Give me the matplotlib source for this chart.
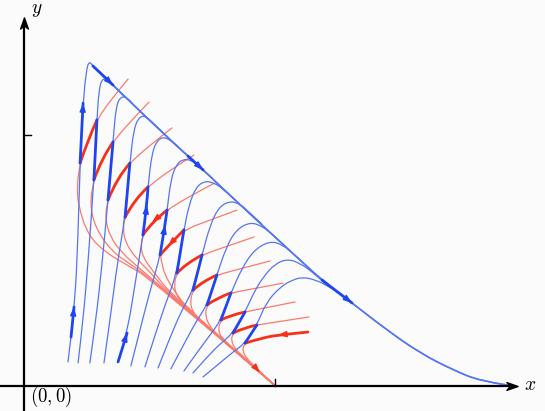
import numpy as np
import matplotlib
matplotlib.use("Agg")
import matplotlib.pyplot as plt
from matplotlib.path import Path
from matplotlib.patches import PathPatch

plt.rcParams['mathtext.fontset'] = 'cm'

# ---------------- data (axis units: tick marks at x=1, y=1) ----------------
blue_1 = [(0.175, 0.096), (0.187, 0.195), (0.199, 0.315), (0.211, 0.482), (0.223, 0.888),
          (0.235, 1.127), (0.247, 1.251), (0.258, 1.295), (0.274, 1.275), (0.354, 1.199),
          (0.501, 1.056), (0.652, 0.916), (0.712, 0.861), (0.899, 0.685), (1.097, 0.502),
          (1.185, 0.422), (1.304, 0.331), (1.443, 0.223), (1.575, 0.131), (1.706, 0.064),
          (1.813, 0.020), (1.920, 0.004)]
blue_2 = [(0.215, 0.092), (0.235, 0.263), (0.254, 0.482), (0.278, 0.821), (0.290, 1.060),
          (0.298, 1.179), (0.310, 1.223), (0.330, 1.223), (0.354, 1.199), (0.402, 1.149)]
blue_3 = [(0.262, 0.092), (0.286, 0.263), (0.310, 0.482), (0.334, 0.741), (0.354, 0.972),
          (0.366, 1.116), (0.386, 1.155), (0.414, 1.147), (0.441, 1.112), (0.481, 1.076)]
blue_4 = [(0.318, 0.092), (0.342, 0.263), (0.370, 0.482), (0.402, 0.673), (0.421, 0.888),
          (0.437, 1.028), (0.461, 1.076), (0.489, 1.072), (0.525, 1.036), (0.573, 0.990)]
blue_5 = [(0.374, 0.096), (0.410, 0.211), (0.441, 0.402), (0.473, 0.602), (0.489, 0.721),
          (0.493, 0.793), (0.509, 0.932), (0.533, 0.984), (0.565, 0.992), (0.604, 0.960),
          (0.660, 0.908)]
blue_6 = [(0.425, 0.080), (0.461, 0.223), (0.497, 0.363), (0.525, 0.462), (0.541, 0.522),
          (0.561, 0.641), (0.569, 0.701), (0.584, 0.821), (0.604, 0.880), (0.632, 0.904),
          (0.664, 0.900), (0.696, 0.876), (0.748, 0.829)]
blue_7 = [(0.481, 0.076), (0.521, 0.203), (0.561, 0.323), (0.608, 0.450), (0.636, 0.622),
          (0.656, 0.721), (0.684, 0.793), (0.720, 0.817), (0.755, 0.809), (0.787, 0.789),
          (0.839, 0.741)]
blue_8 = [(0.533, 0.072), (0.581, 0.195), (0.628, 0.303), (0.672, 0.382), (0.708, 0.522),
          (0.740, 0.641), (0.775, 0.713), (0.819, 0.737), (0.859, 0.725), (0.899, 0.689),
          (0.946, 0.645)]
blue_9 = [(0.584, 0.068), (0.640, 0.175), (0.688, 0.263), (0.728, 0.323), (0.767, 0.442),
          (0.803, 0.550), (0.843, 0.622), (0.899, 0.653), (0.946, 0.637), (0.986, 0.606),
          (1.038, 0.558)]
blue_10 = [(0.636, 0.060), (0.692, 0.139), (0.740, 0.203), (0.783, 0.263), (0.823, 0.371),
           (0.867, 0.470), (0.915, 0.542), (0.978, 0.578), (1.030, 0.562), (1.082, 0.518),
           (1.137, 0.466)]
blue_11 = [(0.672, 0.052), (0.732, 0.120), (0.779, 0.167), (0.831, 0.211), (0.879, 0.295),
           (0.915, 0.375), (0.954, 0.438), (0.998, 0.486), (1.046, 0.506), (1.097, 0.490),
           (1.157, 0.446), (1.209, 0.398)]
blue_12 = [(0.712, 0.036), (0.779, 0.092), (0.831, 0.135), (0.879, 0.171), (0.926, 0.243),
           (0.962, 0.331), (1.018, 0.394), (1.066, 0.422), (1.109, 0.434), (1.161, 0.422),
           (1.209, 0.398), (1.256, 0.367), (1.304, 0.331)]

red_1 = [(0.414, 1.223), (0.350, 1.147), (0.290, 1.060), (0.254, 0.980), (0.223, 0.888),
         (0.211, 0.801), (0.215, 0.721), (0.254, 0.602), (0.322, 0.534), (0.402, 0.486),
         (0.501, 0.430), (1.0, 0.0)]
red_2 = [(0.497, 1.131), (0.421, 1.052), (0.354, 0.972), (0.310, 0.908), (0.278, 0.821),
         (0.262, 0.729), (0.282, 0.633), (0.350, 0.534), (0.441, 0.474), (0.541, 0.398),
         (1.0, 0.0)]
red_3 = [(0.588, 1.028), (0.501, 0.960), (0.421, 0.888), (0.370, 0.829), (0.334, 0.741),
         (0.322, 0.673), (0.342, 0.594), (0.390, 0.530), (0.453, 0.474), (0.561, 0.382),
         (1.0, 0.0)]
red_4 = [(0.676, 0.920), (0.581, 0.861), (0.493, 0.793), (0.441, 0.745), (0.402, 0.673),
         (0.394, 0.629), (0.402, 0.574), (0.441, 0.514), (0.501, 0.454), (0.581, 0.363),
         (1.0, 0.0)]
red_5 = [(0.759, 0.809), (0.660, 0.757), (0.569, 0.701), (0.509, 0.653), (0.473, 0.602),
         (0.465, 0.554), (0.473, 0.514), (0.509, 0.462), (0.600, 0.347), (1.0, 0.0)]
red_6 = [(0.847, 0.701), (0.740, 0.661), (0.636, 0.622), (0.573, 0.558), (0.541, 0.522),
         (0.549, 0.490), (0.557, 0.450), (0.592, 0.386), (0.660, 0.295), (1.0, 0.0)]
red_7 = [(0.915, 0.594), (0.811, 0.558), (0.708, 0.522), (0.648, 0.490), (0.608, 0.450),
         (0.596, 0.402), (0.608, 0.355), (0.652, 0.307), (0.720, 0.247), (1.0, 0.0)]
red_8 = [(0.978, 0.498), (0.871, 0.470), (0.767, 0.442), (0.712, 0.418), (0.672, 0.382),
         (0.660, 0.335), (0.672, 0.291), (0.712, 0.251), (0.779, 0.191), (1.0, 0.0)]
red_9 = [(1.030, 0.410), (0.926, 0.390), (0.823, 0.371), (0.767, 0.351), (0.728, 0.323),
         (0.720, 0.279), (0.740, 0.235), (0.771, 0.203), (0.839, 0.143), (1.0, 0.0)]
red_10 = [(1.078, 0.335), (0.978, 0.315), (0.879, 0.295), (0.823, 0.283), (0.783, 0.263),
          (0.771, 0.223), (0.787, 0.191), (0.827, 0.155), (0.891, 0.096), (1.0, 0.0)]
red_11 = [(1.133, 0.275), (1.030, 0.259), (0.926, 0.243), (0.871, 0.231), (0.831, 0.211),
          (0.823, 0.179), (0.843, 0.143), (0.879, 0.112), (0.930, 0.064), (1.0, 0.0)]
red_12 = [(1.129, 0.215), (1.010, 0.203), (0.946, 0.191), (0.879, 0.171), (0.867, 0.143),
          (0.887, 0.108), (0.922, 0.072), (1.0, 0.0)]

blue_curves = [blue_1, blue_2, blue_3, blue_4, blue_5, blue_6,
               blue_7, blue_8, blue_9, blue_10, blue_11, blue_12]
red_curves = [red_1, red_2, red_3, red_4, red_5, red_6,
              red_7, red_8, red_9, red_10, red_11, red_12]

# highlighted (thick) pieces: (curve number, first point index, last point index)
blue_thick = [(1, 1, 2), (1, 4, 5), (1, 8, 9), (1, 11, 12), (1, 15, 16),
              (2, 3, 4), (3, 3, 4), (4, 3, 4), (5, 0, 1), (5, 3, 5), (6, 4, 6),
              (7, 3, 4), (8, 3, 4), (9, 3, 4), (10, 3, 4), (11, 3, 4), (12, 3, 4)]
red_thick = [(1, 2, 4), (2, 2, 4), (3, 2, 4), (4, 2, 4), (5, 2, 4), (6, 2, 4),
             (7, 2, 4), (8, 2, 4), (9, 2, 4), (10, 2, 4), (11, 2, 4), (12, 0, 3)]
# arrow heads: (curve number, point index of the tip)
blue_arrows = [(1, 2), (1, 5), (1, 9), (1, 12), (1, 16), (5, 1), (5, 4), (6, 5)]
red_arrows = [(5, 3), (6, 3), (12, 1)]
attractor_arrow_tip = (0.938, 0.054)

# ---------------- styles ----------------
BLUE_THIN = '#5575f2'
BLUE_THICK = '#1f45f0'
RED_THIN = '#fb7a6c'
RED_THICK = '#f7301a'
BG = '#fbfbfb'

fig = plt.figure(figsize=(5.45, 4.11), dpi=100, facecolor=BG)
ax = fig.add_axes([0, 0, 1, 1])
ax.set_facecolor(BG)
ax.set_xlim(-0.0954, 2.0716)
ax.set_ylim(-0.0996, 1.5378)
ax.axis('off')


def smooth(pts):
    pts = np.asarray(pts, float)
    n = len(pts)
    if n <= 2:
        return Path(pts)
    verts = [pts[0]]
    codes = [Path.MOVETO]
    for i in range(1, n - 1):
        end = pts[-1] if i == n - 2 else (pts[i] + pts[i + 1]) / 2
        verts += [pts[i], end]
        codes += [Path.CURVE3, Path.CURVE3]
    return Path(verts, codes)


def draw(pts, color, lw, z):
    ax.add_patch(PathPatch(smooth(pts), facecolor='none', edgecolor=color,
                           lw=lw, zorder=z, capstyle='round', joinstyle='round'))


def head(tip, prev, color, z):
    tip = np.asarray(tip, float)
    prev = np.asarray(prev, float)
    d = tip - prev
    d = d / np.hypot(*d)
    ax.annotate('', xy=tuple(tip), xytext=tuple(tip - 0.018 * d),
                arrowprops=dict(arrowstyle='-|>,head_length=0.5,head_width=0.18',
                                color=color, lw=1.0, shrinkA=0, shrinkB=0,
                                mutation_scale=10),
                zorder=z)


for c in red_curves:
    draw(c, RED_THIN, 0.9, 2)
for c in blue_curves:
    draw(c, BLUE_THIN, 0.9, 3)
draw(blue_1[8:], BLUE_THIN, 1.2, 3)

for (k, i, j) in red_thick:
    draw(red_curves[k - 1][i:j + 1], RED_THICK, 2.0, 4)
for (k, i, j) in blue_thick:
    draw(blue_curves[k - 1][i:j + 1], BLUE_THICK, 2.0, 5)

for (k, i) in blue_arrows:
    c = blue_curves[k - 1]
    head(c[i], c[i - 1], BLUE_THICK, 6)
for (k, i) in red_arrows:
    c = red_curves[k - 1]
    head(c[i], c[i - 1], RED_THICK, 6)
head(attractor_arrow_tip, red_12[-2], RED_THICK, 6)

# ---------------- axes with stealth arrows ----------------
AX_LW = 1.6
x_tip = 1.960
y_tip = 1.466
ax.plot([-0.0954, x_tip - 0.02], [0, 0], color='black', lw=AX_LW, zorder=7,
        solid_capstyle='butt')
ax.plot([0, 0], [-0.0996, y_tip - 0.02], color='black', lw=AX_LW, zorder=7,
        solid_capstyle='butt')
stealth_r = Path([(1, 0), (-1, 0.7), (-0.45, 0), (-1, -0.7), (1, 0)],
                 [Path.MOVETO, Path.LINETO, Path.LINETO, Path.LINETO, Path.CLOSEPOLY])
stealth_u = Path([(0, 1), (-0.7, -1), (0, -0.45), (0.7, -1), (0, 1)],
                 [Path.MOVETO, Path.LINETO, Path.LINETO, Path.LINETO, Path.CLOSEPOLY])
ax.plot([x_tip - 0.021], [0], marker=stealth_r, markersize=8, color='black', zorder=8)
ax.plot([0], [y_tip - 0.021], marker=stealth_u, markersize=8, color='black', zorder=8)

# tick marks
ax.plot([0, 0.028], [1, 1], color='black', lw=1.0, zorder=7)
ax.plot([1, 1], [0, 0.026], color='black', lw=1.0, zorder=7)

# labels
ax.text(2.012, 0.004, r'$x$', fontsize=14, ha='center', va='center', zorder=9)
ax.text(0.052, 1.50, r'$y$', fontsize=14, ha='center', va='center', zorder=9)
ax.text(0.024, -0.044, r'$(0,0)$', fontsize=13.5, ha='left', va='center', zorder=9)

fig.savefig('out.png', dpi=100, facecolor=BG)
